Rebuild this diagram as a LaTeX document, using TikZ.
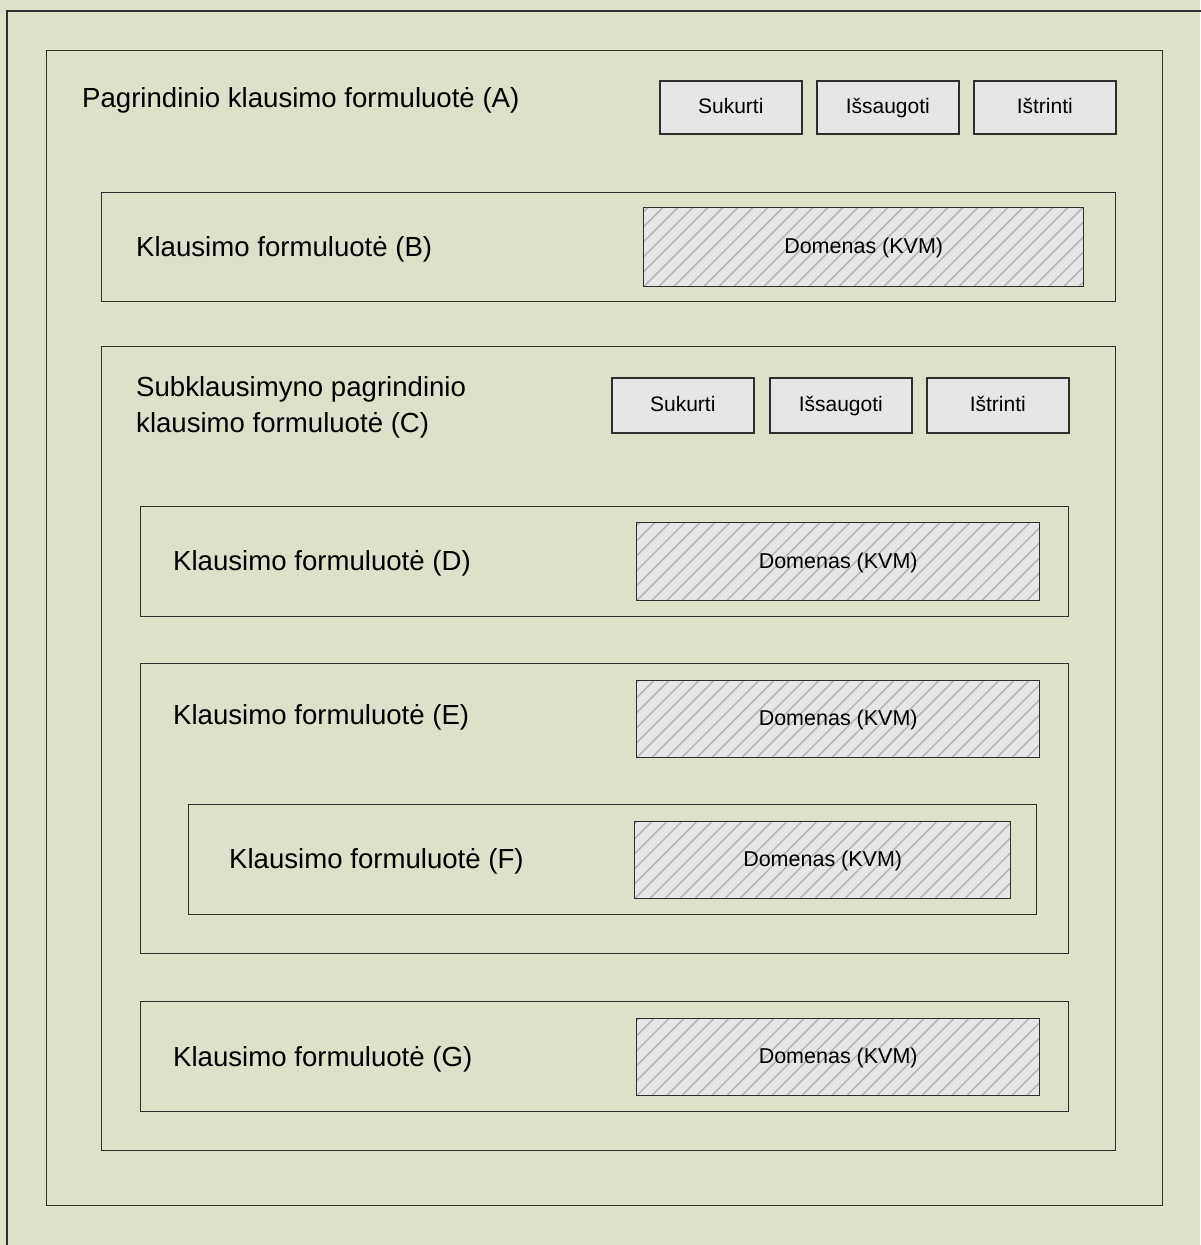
\documentclass[tikz,border=0pt]{standalone}
\usepackage{fontspec}
\setmainfont{Liberation Sans}
\definecolor{bg}{HTML}{DEE1C9}
\definecolor{btnfill}{HTML}{E6E6E6}
\definecolor{edge}{HTML}{2E2E2E}
\definecolor{hatchc}{HTML}{B4B4B4}
\tikzset{
  frame/.style={draw=edge, line width=1.4pt, anchor=north west, inner sep=0pt},
  btn/.style={draw=edge, line width=1.6pt, fill=btnfill, anchor=north west, inner sep=0pt,
    minimum width=142pt, minimum height=53pt, text height=12pt, text depth=0pt,
    font=\fontsize{21}{25}\selectfont},
  dom/.style={draw=edge, line width=1.4pt, fill=btnfill, anchor=north west, inner sep=0pt,
    text height=13pt, text depth=0pt,
    font=\fontsize{21.5}{25}\selectfont,
    path picture={
      \foreach \i in {-45,...,35}
        \draw[hatchc, line width=1.4pt] ([xshift=\i*15pt]path picture bounding box.south west) -- ++(200pt,200pt);
    }},
  title/.style={anchor=base west, inner sep=0pt, font=\fontsize{27.6}{35.5}\selectfont, align=left},
}
\begin{document}
\begin{tikzpicture}[x=1pt,y=-1pt]
\useasboundingbox (0,0) rectangle (1200,1245);
\fill[bg] (0,0) rectangle (1200,1245);
\coordinate (o1) at (7,1250);
\coordinate (o2) at (7,11);
\coordinate (o3) at (1205,11);
\draw[edge, line width=1.4pt] (o1) -- (o2) -- (o3);
% Frame A
\node[frame, minimum width=1116pt, minimum height=1155pt] (A) at (46,50) {};
\node[title] (tA) at (82,107) {Pagrindinio klausimo formuluotė (A)};
\node[btn] (a1) at (659,80) {Sukurti};
\node[btn] (a2) at (816,80) {Išsaugoti};
\node[btn] (a3) at (973,80) {Ištrinti};
% Box B
\node[frame, minimum width=1014pt, minimum height=109pt] (B) at (101,192) {};
\node[title] (tB) at (136,256) {Klausimo formuluotė (B)};
\node[dom, minimum width=440pt, minimum height=79pt] (dB) at (643,207) {Domenas (KVM)};
% Box C
\node[frame, minimum width=1014pt, minimum height=804pt] (C) at (101,346) {};
\node[title] (tC) at (136,432) {Subklausimyno pagrindinio\\klausimo formuluotė (C)};
\node[btn, minimum height=55pt] (c1) at (611,377) {Sukurti};
\node[btn, minimum height=55pt] (c2) at (769,377) {Išsaugoti};
\node[btn, minimum height=55pt] (c3) at (926,377) {Ištrinti};
% Box D
\node[frame, minimum width=928pt, minimum height=110pt] (D) at (140,506) {};
\node[title] (tD) at (173,570) {Klausimo formuluotė (D)};
\node[dom, minimum width=403pt, minimum height=78pt] (dD) at (636,522) {Domenas (KVM)};
% Box E
\node[frame, minimum width=928pt, minimum height=290pt] (E) at (140,663) {};
\node[title] (tE) at (173,724) {Klausimo formuluotė (E)};
\node[dom, minimum width=403pt, minimum height=77pt] (dE) at (636,680) {Domenas (KVM)};
% Box F
\node[frame, minimum width=848pt, minimum height=110pt] (F) at (188,804) {};
\node[title] (tF) at (229,868) {Klausimo formuluotė (F)};
\node[dom, minimum width=376pt, minimum height=77pt] (dF) at (634,821) {Domenas (KVM)};
% Box G
\node[frame, minimum width=928pt, minimum height=110pt] (G) at (140,1001) {};
\node[title] (tG) at (173,1066) {Klausimo formuluotė (G)};
\node[dom, minimum width=403pt, minimum height=77pt] (dG) at (636,1018) {Domenas (KVM)};
\end{tikzpicture}
\end{document}
